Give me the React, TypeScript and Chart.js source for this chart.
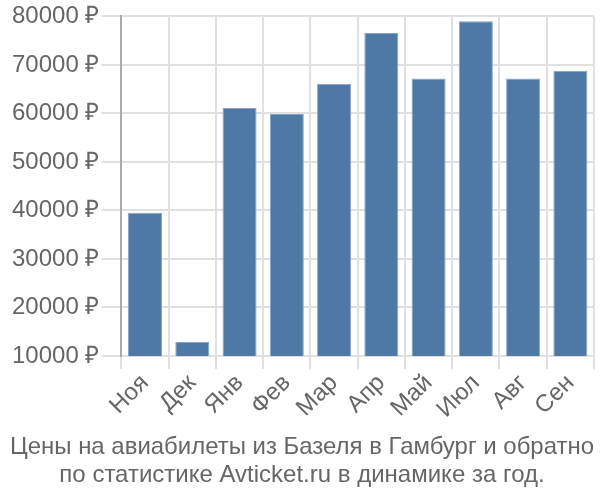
import React, { useEffect, useRef } from "react";
import { Chart, registerables } from "chart.js";

Chart.register(...registerables);

const categories = ["Ноя", "Дек", "Янв", "Фев", "Мар", "Апр", "Май", "Июл", "Авг", "Сен"];
const prices = [39500, 12900, 61100, 59900, 66100, 76600, 67200, 79000, 67200, 68800];
const titleLines = [
  "Цены на авиабилеты из Базеля в Гамбург и обратно",
  "по статистике Avticket.ru в динамике за год.",
];
const yMin = 10000;
const yMax = 80000;
const yStep = 10000;

export default function App() {
  const ref = useRef<HTMLCanvasElement | null>(null);
  useEffect(() => {
    if (!ref.current) return;
    const font = { family: "'Liberation Sans', Arial, sans-serif", size: 24 };
    const chart = new Chart(ref.current, {
      type: "bar",
      data: {
        labels: categories,
        datasets: [
          {
            data: prices,
            backgroundColor: "#4e78a6",
            borderColor: "#86a4c8",
            borderWidth: 1,
          },
        ],
      },
      options: {
        animation: false,
        responsive: false,
        maintainAspectRatio: false,
        layout: { padding: { top: 3, right: 6, left: 10, bottom: 11 } },
        plugins: {
          legend: { display: false },
          tooltip: { enabled: false },
          title: {
            display: true,
            position: "bottom",
            text: titleLines,
            color: "#666666",
            font: { ...font, weight: "normal", lineHeight: 1.15 },
            padding: { top: 10, bottom: 0 },
          },
        },
        scales: {
          x: {
            offset: true,
            grid: {
              offset: true,
              color: "#e0e0e0",
              lineWidth: 2,
              tickLength: 13,
            },
            border: { color: "#e0e0e0", width: 2 },
            ticks: {
              color: "#666666",
              font,
              maxRotation: 45,
              minRotation: 45,
              padding: 0,
            },
          },
          y: {
            min: yMin,
            max: yMax,
            grid: { color: "#e0e0e0", lineWidth: 2, tickLength: 20 },
            border: { color: "#aaaaaa", width: 2 },
            ticks: {
              stepSize: yStep,
              color: "#666666",
              font,
              padding: 2,
              callback: (v: any) => `${v} ₽`,
            },
          },
        },
      },
    });
    return () => chart.destroy();
  }, []);
  return (
    <div style={{ position: "absolute", left: 0, top: 0, width: 600, height: 500 }}>
      <canvas ref={ref} width={600} height={500} style={{ width: 600, height: 500 }} />
    </div>
  );
}
